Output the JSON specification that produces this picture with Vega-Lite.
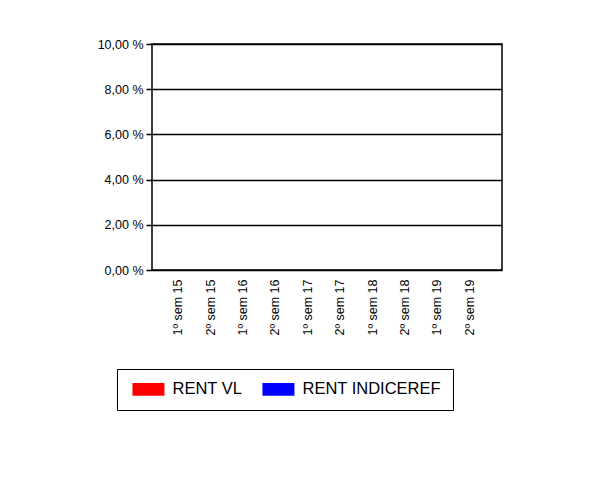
{
  "$schema": "https://vega.github.io/schema/vega-lite/v6.json",
  "width": 350,
  "height": 226,
  "autosize": "none",
  "padding": {"left": 152, "top": 44, "right": 96, "bottom": 219},
  "background": "white",
  "data": {
    "values": [
      {"periodo": "1º sem 15", "serie": "RENT VL", "rent": null},
      {"periodo": "1º sem 15", "serie": "RENT INDICEREF", "rent": null},
      {"periodo": "2º sem 15", "serie": "RENT VL", "rent": null},
      {"periodo": "2º sem 15", "serie": "RENT INDICEREF", "rent": null},
      {"periodo": "1º sem 16", "serie": "RENT VL", "rent": null},
      {"periodo": "1º sem 16", "serie": "RENT INDICEREF", "rent": null},
      {"periodo": "2º sem 16", "serie": "RENT VL", "rent": null},
      {"periodo": "2º sem 16", "serie": "RENT INDICEREF", "rent": null},
      {"periodo": "1º sem 17", "serie": "RENT VL", "rent": null},
      {"periodo": "1º sem 17", "serie": "RENT INDICEREF", "rent": null},
      {"periodo": "2º sem 17", "serie": "RENT VL", "rent": null},
      {"periodo": "2º sem 17", "serie": "RENT INDICEREF", "rent": null},
      {"periodo": "1º sem 18", "serie": "RENT VL", "rent": null},
      {"periodo": "1º sem 18", "serie": "RENT INDICEREF", "rent": null},
      {"periodo": "2º sem 18", "serie": "RENT VL", "rent": null},
      {"periodo": "2º sem 18", "serie": "RENT INDICEREF", "rent": null},
      {"periodo": "1º sem 19", "serie": "RENT VL", "rent": null},
      {"periodo": "1º sem 19", "serie": "RENT INDICEREF", "rent": null},
      {"periodo": "2º sem 19", "serie": "RENT VL", "rent": null},
      {"periodo": "2º sem 19", "serie": "RENT INDICEREF", "rent": null}
    ]
  },
  "mark": "bar",
  "encoding": {
    "x": {
      "field": "periodo",
      "type": "nominal",
      "sort": null,
      "title": null,
      "scale": {
        "domain": ["1º sem 15", "2º sem 15", "1º sem 16", "2º sem 16", "1º sem 17", "2º sem 17", "1º sem 18", "2º sem 18", "1º sem 19", "2º sem 19"],
        "paddingInner": 0.2,
        "paddingOuter": 0.5
      },
      "axis": {
        "domain": false,
        "ticks": false,
        "labelAngle": 270,
        "labelAlign": "right",
        "labelBaseline": "middle",
        "labelPadding": 9,
        "labelOffset": -3
      }
    },
    "xOffset": {
      "field": "serie",
      "scale": {"domain": ["RENT VL", "RENT INDICEREF"]}
    },
    "y": {
      "field": "rent",
      "type": "quantitative",
      "title": null,
      "scale": {"domain": [0, 10], "nice": false},
      "axis": {
        "values": [0, 2, 4, 6, 8, 10],
        "domain": false,
        "tickSize": 6,
        "tickWidth": 1.5,
        "tickColor": "#000",
        "labelPadding": 3,
        "gridColor": "#000",
        "gridWidth": 1.5,
        "gridOpacity": 1,
        "labelExpr": "replace(format(datum.value, '.2f'), '.', ',') + ' %'"
      }
    },
    "color": {
      "field": "serie",
      "type": "nominal",
      "scale": {"domain": ["RENT VL", "RENT INDICEREF"], "range": ["#ff0000", "#0000ff"]},
      "legend": {
        "title": null,
        "orient": "none",
        "legendX": -35,
        "legendY": 325,
        "direction": "horizontal",
        "strokeColor": "#000",
        "fillColor": "#fff",
        "padding": 12,
        "symbolType": "M-0.6,-0.8H3.4V0.8H-0.6Z",
        "symbolSize": 256,
        "symbolStrokeWidth": 0,
        "symbolOpacity": 1,
        "labelOffset": 27,
        "columnPadding": 16,
        "labelFont": "Liberation Sans",
        "labelFontSize": 16.5,
        "labelColor": "#000"
      }
    }
  },
  "config": {
    "view": {"stroke": "#000", "strokeWidth": 1.5},
    "axis": {
      "labelFont": "Liberation Sans",
      "labelFontSize": 12.5,
      "labelColor": "#000"
    }
  }
}
